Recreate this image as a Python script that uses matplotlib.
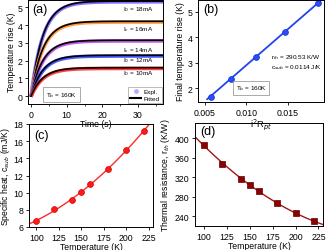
import numpy as np
import matplotlib
matplotlib.use("Agg")
import matplotlib.pyplot as plt

plt.rcParams['font.family'] = ['Liberation Sans', 'DejaVu Sans']
plt.rcParams['mathtext.fontset'] = 'dejavusans'

# (a) transient heating, parameters of the fit
currents = ['I$_0$ = 18mA', 'I$_c$ = 16mA', 'I$_c$ = 14mA', 'I$_0$ = 12mA', 'I$_0$ = 10mA']
final_rise = [5.36, 4.22, 3.15, 2.3, 1.6]
label_y = [4.92, 3.82, 2.6, 2.06, 1.3]
band_colors = ['#8070ff', '#ff9a40', '#c060e8', '#4a60ff', '#ff4040']
r_th = 290.53     # K/W
c_sub = 0.0114    # J/K

# (b) final temperature rise vs i^2 R
i2r = [0.0057, 0.0081, 0.0111, 0.0146, 0.0186]
dT_final = [1.65, 2.37, 3.23, 4.22, 5.33]

# (c) specific heat vs temperature
temps = [100, 120, 140, 150, 160, 180, 200, 220]
c_heat = [6.7, 8.05, 9.1, 10.1, 11.0, 12.7, 15.0, 17.2]

# (d) thermal resistance vs temperature
r_therm = [385.5, 347, 317, 305, 291, 267.5, 246.5, 229.5]

W, H = 327, 251
fig = plt.figure(figsize=(W / 100, H / 100), dpi=100)

def make_ax(l, t, r, b):
    ax = fig.add_axes([l / W, 1 - b / H, (r - l) / W, (b - t) / H])
    ax.patch.set_alpha(0)
    ax.tick_params(direction='out', length=2.5, width=0.6, labelsize=6.3, pad=1.5)
    ax.tick_params(which='minor', direction='out', length=1.4, width=0.5)
    for s in ax.spines.values():
        s.set_linewidth(0.7)
    return ax

fs_lab = 6.2
fs_note = 4.6
box = dict(boxstyle='square,pad=0.45', fc='white', ec='#888888', lw=0.5)

# ---- (a)
ax1 = make_ax(28, 0.5, 163, 105)
t = np.linspace(0, 38, 400)
tau = r_th * c_sub
for lab, A, ly, col in zip(currents, final_rise, label_y, band_colors):
    y = A * (1 - np.exp(-t / tau))
    ax1.plot(t, y - 0.04, color=col, lw=2.6, solid_capstyle='butt')
    ax1.plot(t, y, color='black', lw=1.2)
    ax1.text(34.3, ly, lab, fontsize=fs_note, ha='right', va='center')
ax1.set_xlim(-0.85, 37)
ax1.set_ylim(-0.45, 5.45)
ax1.set_xticks([0, 10, 20, 30])
ax1.set_yticks([0, 1, 2, 3, 4, 5])
ax1.set_xticks(np.arange(5, 36, 10), minor=True)
ax1.set_xlabel('Time (s)', fontsize=fs_lab, labelpad=0.5)
ax1.set_ylabel('Temperature rise (K)', fontsize=fs_lab, labelpad=1)
ax1.text(0.03, 0.97, '(a)', transform=ax1.transAxes, fontsize=9, va='top')
ax1.text(4.2, 0.08, 'T$_b$ = 160K', fontsize=fs_note, va='center', bbox=box)
h1 = ax1.scatter([], [], s=6, color='#b8a8ff')
h2, = ax1.plot([], [], color='black', lw=1.5)
ax1.legend([h1, h2], ['Expl.', 'Fitted'], loc='lower right', fontsize=fs_note,
           frameon=True, fancybox=False, edgecolor='#888888', handlelength=1.8,
           borderpad=0.3, labelspacing=0.2, handletextpad=0.4,
           borderaxespad=0.2).get_frame().set_linewidth(0.5)

# ---- (b)
ax2 = make_ax(198, 0.5, 324, 103)
k = np.polyfit(i2r, dT_final, 1)
xx = np.linspace(0.0053, 0.0189, 50)
ax2.plot(xx, np.polyval(k, xx), color='#2244ee', lw=1.3)
ax2.plot(i2r, dT_final, 'o', color='#2a4cff', ms=4.2, mec='#1030d0', mew=0.5)
ax2.set_xlim(0.0042, 0.0193)
ax2.set_ylim(1.45, 5.48)
ax2.set_xticks([0.005, 0.010, 0.015])
ax2.set_xticklabels(['0.005', '0.010', '0.015'])
ax2.set_yticks([2, 3, 4, 5])
ax2.set_xlabel('i$^2$R$_{pt}$', fontsize=fs_lab + 0.5, labelpad=0)
ax2.set_ylabel('Final temperature rise (K)', fontsize=fs_lab, labelpad=2)
ax2.text(0.04, 0.97, '(b)', transform=ax2.transAxes, fontsize=9, va='top')
ax2.text(0.0129, 3.25, 'r$_{th}$ = 290.53 K/W', fontsize=fs_note, va='center')
ax2.text(0.0129, 2.86, 'c$_{sub}$ = 0.0114 J/K', fontsize=fs_note, va='center')
ax2.text(0.0087, 2.0, 'T$_b$ = 160K', fontsize=fs_note, va='center', bbox=box)

# ---- (c)
ax3 = make_ax(29, 125, 153, 228)
p = np.polyfit(temps, c_heat, 2)
tt = np.linspace(90, 232, 100)
ax3.plot(tt, np.polyval(p, tt), color='#ff2a2a', lw=1.0)
ax3.plot(temps, c_heat, 'o', color='#ff1a1a', ms=4.2, mec='#cc0000', mew=0.5)
ax3.set_xlim(92, 230)
ax3.set_ylim(6, 18)
ax3.set_xticks([100, 125, 150, 175, 200, 225])
ax3.set_yticks([6, 8, 10, 12, 14, 16, 18])
ax3.set_xlabel('Temperature (K)', fontsize=fs_lab, labelpad=0.5)
ax3.set_ylabel('Specific heat, c$_{sub}$ (mJ/K)', fontsize=fs_lab, labelpad=1)
ax3.text(0.04, 0.95, '(c)', transform=ax3.transAxes, fontsize=9, va='top')

# ---- (d)
ax4 = make_ax(195, 124, 323, 227)
q = np.polyfit(temps, r_therm, 2)
ax4.plot(tt, np.polyval(q, tt), color='#a01818', lw=1.0)
ax4.plot(temps, r_therm, 's', color='#8b0000', ms=4.2, mec='#600000', mew=0.5)
ax4.set_xlim(90, 230)
ax4.set_ylim(220, 431)
ax4.set_xticks([100, 125, 150, 175, 200, 225])
ax4.set_yticks([240, 280, 320, 360, 400])
ax4.set_xlabel('Temperature (K)', fontsize=fs_lab, labelpad=0.5)
ax4.set_ylabel('Thermal resistance, r$_{th}$ (K/W)', fontsize=fs_lab, labelpad=2)
ax4.text(0.04, 0.98, '(d)', transform=ax4.transAxes, fontsize=9, va='top')

fig.savefig('out.png', dpi=100)
